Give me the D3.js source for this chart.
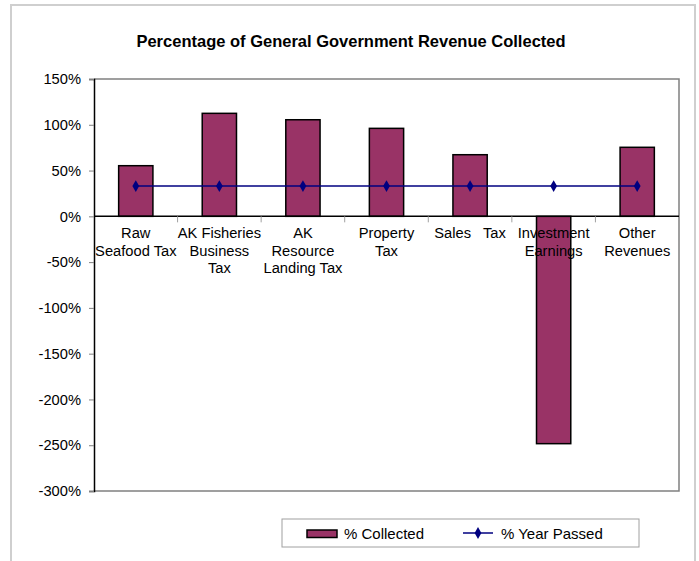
<!DOCTYPE html>
<html>
<head>
<meta charset="utf-8">
<script src="https://cdn.jsdelivr.net/npm/d3@7"></script>
<style>
  body { margin: 0; background: #fff; }
  text { font-family: "Liberation Sans", Arial, sans-serif; fill: #000; }
</style>
</head>
<body>
<svg id="chart" width="699" height="561"></svg>
<script>
// data
const categories = ["Raw Seafood Tax", "AK Fisheries Business Tax", "AK Resource Landing Tax",
  "Property Tax", "Sales Tax", "Investment Earnings", "Other Revenues"];
const categoryLines = [
  ["Raw", "Seafood Tax"],
  ["AK Fisheries", "Business", "Tax"],
  ["AK", "Resource", "Landing Tax"],
  ["Property", "Tax"],
  ["Sales   Tax"],
  ["Investment", "Earnings"],
  ["Other", "Revenues"]
];
const collected = [55.3, 112.5, 105.5, 96.1, 67.3, -248.3, 75.4];
const yearPassed = [33, 33, 33, 33, 33, 33, 33];
const yTicks = [150, 100, 50, 0, -50, -100, -150, -200, -250, -300];

const BAR_COLOR = "#993366";
const LINE_COLOR = "#000080";
const FONT_SIZE = "14.7px";

const svg = d3.select("#chart");
const margin = { top: 79, left: 94, right: 20, bottom: 70 };
const width = 679 - margin.left;
const height = 491 - margin.top;

// outer frame
svg.append("rect")
  .attr("x", 11).attr("y", 5)
  .attr("width", 684).attr("height", 570)
  .attr("fill", "none")
  .attr("stroke", "#cfcfcf")
  .attr("stroke-width", 2);

svg.append("text")
  .attr("x", 351).attr("y", 47)
  .attr("text-anchor", "middle")
  .style("font-size", "16.5px")
  .style("font-weight", "bold")
  .text("Percentage of General Government Revenue Collected");

const g = svg.append("g").attr("transform", `translate(${margin.left},${margin.top})`);

const x = d3.scaleBand().domain(categories).range([0, width]);
const y = d3.scaleLinear().domain([-300, 150]).range([height, 0]);

// plot border (top/right/bottom grey)
g.append("path")
  .attr("d", `M0,0H${width}V${height}H0`)
  .attr("fill", "none")
  .attr("stroke", "#808080")
  .attr("stroke-width", 1.5);

// y axis
const yAxis = d3.axisLeft(y)
  .tickValues(yTicks)
  .tickSize(5)
  .tickFormat(d => d + "%");
g.append("g")
  .call(yAxis)
  .call(a => a.select(".domain").attr("stroke", "#000").attr("stroke-width", 1.5))
  .call(a => a.selectAll(".tick line").attr("stroke", "#808080"))
  .call(a => a.selectAll(".tick text")
    .attr("x", -13)
    .style("font-size", FONT_SIZE)
    .style("font-family", "Liberation Sans, Arial, sans-serif"));

// bars
const barW = x.bandwidth() * 0.41;
g.selectAll("rect.bar")
  .data(collected)
  .enter()
  .append("rect")
  .attr("class", "bar")
  .attr("x", (d, i) => x(categories[i]) + (x.bandwidth() - barW) / 2)
  .attr("y", d => y(Math.max(0, d)))
  .attr("width", barW)
  .attr("height", d => Math.abs(y(d) - y(0)))
  .attr("fill", BAR_COLOR)
  .attr("stroke", "#000")
  .attr("stroke-width", 1.5);

// zero line and category ticks
g.append("line")
  .attr("x1", 0).attr("x2", width)
  .attr("y1", y(0)).attr("y2", y(0))
  .attr("stroke", "#000").attr("stroke-width", 1.5);

g.selectAll("line.cat-tick")
  .data(categories.slice(1))
  .enter()
  .append("line")
  .attr("class", "cat-tick")
  .attr("x1", d => x(d)).attr("x2", d => x(d))
  .attr("y1", y(0)).attr("y2", y(0) + 6)
  .attr("stroke", "#a0a0a0");

// category labels
const labels = g.selectAll("text.cat")
  .data(categoryLines)
  .enter()
  .append("text")
  .attr("class", "cat")
  .attr("text-anchor", "middle")
  .attr("xml:space", "preserve")
  .style("white-space", "pre")
  .style("font-size", FONT_SIZE)
  .attr("transform", (d, i) => `translate(${x(categories[i]) + x.bandwidth() / 2},${y(0) + 22})`);
labels.selectAll("tspan")
  .data(d => d)
  .enter()
  .append("tspan")
  .attr("x", 0)
  .attr("dy", (d, i) => i === 0 ? 0 : 17.5)
  .text(d => d);

// year passed line
const line = d3.line()
  .x((d, i) => x(categories[i]) + x.bandwidth() / 2)
  .y(d => y(d));
g.append("path")
  .datum(yearPassed)
  .attr("d", line)
  .attr("fill", "none")
  .attr("stroke", LINE_COLOR)
  .attr("stroke-width", 1.5);

const diamond = d3.symbol().type(d3.symbolDiamond).size(40);
g.selectAll("path.marker")
  .data(yearPassed)
  .enter()
  .append("path")
  .attr("class", "marker")
  .attr("d", diamond)
  .attr("fill", LINE_COLOR)
  .attr("transform", (d, i) => `translate(${x(categories[i]) + x.bandwidth() / 2},${y(d)})`);

// legend
const legend = svg.append("g").attr("transform", "translate(282,519)");
legend.append("rect")
  .attr("width", 357).attr("height", 28)
  .attr("fill", "#fff")
  .attr("stroke", "#a0a0a0")
  .attr("stroke-width", 1);
legend.append("rect")
  .attr("x", 25).attr("y", 11)
  .attr("width", 30).attr("height", 7.5)
  .attr("fill", BAR_COLOR)
  .attr("stroke", "#000")
  .attr("stroke-width", 1.5);
legend.append("text")
  .attr("x", 62).attr("y", 19.5)
  .style("font-size", "15px")
  .text("% Collected");
legend.append("line")
  .attr("x1", 181).attr("x2", 211)
  .attr("y1", 14).attr("y2", 14)
  .attr("stroke", LINE_COLOR)
  .attr("stroke-width", 1.5);
legend.append("path")
  .attr("d", diamond)
  .attr("fill", LINE_COLOR)
  .attr("transform", "translate(196,14)");
legend.append("text")
  .attr("x", 219).attr("y", 19.5)
  .style("font-size", "15px")
  .text("% Year Passed");
</script>
</body>
</html>
